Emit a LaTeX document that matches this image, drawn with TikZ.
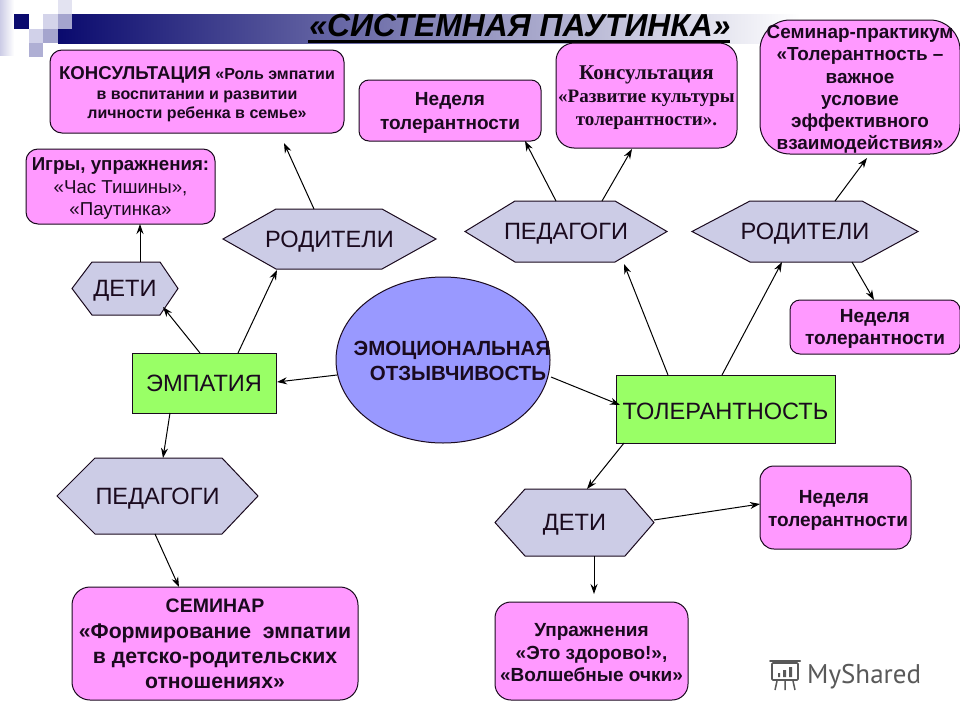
\documentclass[tikz,border=0pt]{standalone}
\usepackage{fontspec}
\setmainfont{Liberation Sans}
\newfontfamily\wmfont{PT Sans}
\newfontfamily\serifont{Liberation Serif}
\usetikzlibrary{arrows.meta}
\definecolor{pinkb}{HTML}{FF99FF}
\definecolor{hexb}{HTML}{CCCCE6}
\definecolor{greenb}{HTML}{99FF66}
\definecolor{ellb}{HTML}{9999FF}
\definecolor{inkc}{HTML}{1A0A1E}
\definecolor{navyb}{HTML}{0A0A6E}
\newcommand{\fs}[2]{\fontsize{#1}{#2}\selectfont}
\tikzset{
  pinkbox/.style={draw=inkc,fill=pinkb,line width=1pt,inner sep=0pt,align=center,text=inkc},
  greenbox/.style={draw=inkc,fill=greenb,line width=1pt,inner sep=0pt,align=center,font=\fs{23.6}{28},text=inkc},
  hexoutline/.style={draw=inkc,fill=hexb,line width=1pt,line join=miter},
  hextext/.style={inner sep=0pt,align=center,font=\fs{23.6}{28},text=inkc},
  arr/.style={draw=black,line width=1pt,-{Stealth[length=10pt,width=7pt]}}
}
\def\bxdy{2.5}
\newcommand{\bx}[8][pinkbox]{\node[#1,rounded corners=#7pt,minimum width={#5-#3},minimum height={#6-#4}] (#2) at ({(#3+#5)/2},{(#4+#6)/2}) {};
 \node[#1,draw=none,fill=none,yshift=-\bxdy pt] (#2text) at (#2.center) {#8};}
\newcommand{\hexa}[8]{\draw[hexoutline] (#2,{(#6+#7)/2}) -- (#3,#6) -- (#4,#6) -- (#5,{(#6+#7)/2}) -- (#4,#7) -- (#3,#7) -- cycle;
 \node[hextext,minimum width={#5-#2},minimum height={#7-#6}] (#1) at ({(#2+#5)/2},{(#6+#7)/2}) {};
 \node[hextext,yshift=-2.5pt] (#1text) at (#1.center) {#8};}
\newcommand{\conn}[6]{\draw[arr] ([shift={(#2,#3)}]#1.center) -- ([shift={(#5,#6)}]#4.center);}
\begin{document}
\begin{tikzpicture}[x=1pt,y=-1pt]
\useasboundingbox (0,0) rectangle (960,720);
\fill[white] (0,0) rectangle (960,720);
% banner
\shade[left color=navyb,right color=white,shading angle=90,draw=none] (58,14) rectangle (800,43);
\shade[left color=hexb,right color=white,draw=none] (0,0) rectangle (14,55);
\fill[navyb] (14,14) rectangle (29,29);
\fill[hexb!55!white] (58,0) rectangle (72,14);
\fill[hexb!85!white] (43,14) rectangle (58,29);
\fill[hexb!80!navyb] (58,14) rectangle (72,29);
\fill[hexb!90!white] (29,29) rectangle (43,43);
\fill[hexb!80!navyb] (43,29) rectangle (58,43);
\fill[hexb!85!navyb] (29,43) rectangle (43,57);
% title
\node[inner sep=0pt,font=\fs{31.8}{36}\bfseries\itshape,text=black,anchor=base] (title) at (520,36) {«СИСТЕМНАЯ ПАУТИНКА»};
\fill[black] (308,40) rectangle (730,42.5);
% boxes
\def\bxdy{3}
\bx[pinkbox,font=\fs{16}{19.5}\bfseries]{kons}{50}{50}{344}{133}{12}{{\fs{18.6}{19.5}КОНСУЛЬТАЦИЯ} «Роль эмпатии\\в воспитании и развитии\\личности ребенка в семье»}
\def\bxdy{2.5}
\bx[pinkbox,font=\fs{18.7}{22.5}]{igry}{26}{149}{215}{224}{12}{{\bfseries Игры, упражнения:}\\«Час Тишины»,\\«Паутинка»}
\bx[pinkbox,font=\fs{19}{24}\bfseries]{nedA}{359}{80}{541}{141}{10}{Неделя\\толерантности}
\bx[pinkbox,font=\serifont\fs{19}{23}\bfseries]{konsB}{556}{43}{737}{148}{18}{{\fs{21}{23}Консультация}\\«Развитие культуры\\толерантности».}
\bx[pinkbox,font=\fs{18.9}{22.3}\bfseries]{semB}{760}{20}{960}{154}{30}{Семинар-практикум\\«Толерантность --\\важное\\условие\\эффективного\\взаимодействия»}
\def\bxdy{2}
\bx[pinkbox,font=\fs{19}{22}\bfseries]{nedB}{790}{300}{960}{354}{10}{Неделя\\толерантности}
\def\bxdy{3}
\bx[pinkbox,font=\fs{19}{23}\bfseries]{nedC}{760}{466}{911}{549}{14}{Неделя\hspace*{3pt}\\\hspace*{5pt}толерантности}
\def\bxdy{2}
\bx[pinkbox,font=\fs{19}{22.5}\bfseries]{upr}{495}{602}{688}{700}{16}{Упражнения\\«Это здорово!»,\\«Волшебные очки»}
\def\bxdy{0.5}
\bx[pinkbox,font=\fs{21.2}{25.3}\bfseries]{semA}{72}{587}{358}{700}{18}{{\fs{19.5}{25.3}СЕМИНАР}\\«Формирование\ \ эмпатии\\в детско-родительских\\отношениях»}
% hexagons
\hexa{rodA}{223}{276}{382}{436}{209}{269}{РОДИТЕЛИ}
\hexa{detA}{72}{92}{160}{178}{262}{315}{ДЕТИ}
\hexa{pedB}{465}{515}{615}{667}{201}{262}{ПЕДАГОГИ}
\hexa{rodB}{692}{750}{862}{918}{201}{262}{РОДИТЕЛИ}
\hexa{pedA}{57}{95}{222}{258}{458}{534}{ПЕДАГОГИ}
\hexa{detB}{495}{525}{625}{654}{489}{556}{ДЕТИ}
% centre
\def\bxdy{0}
\bx[greenbox]{emp}{132}{353}{276}{413}{0}{ЭМПАТИЯ}
\def\bxdy{2}
\bx[greenbox]{tol}{616}{375}{835}{443}{0}{ТОЛЕРАНТНОСТЬ}
\draw[draw=inkc,fill=ellb,line width=1pt] (443,360) ellipse [x radius=107,y radius=83];
\node[minimum width=214pt,minimum height=166pt,inner sep=0pt] (ell) at (443,360) {};
\node[inner sep=0pt,align=center,font=\fs{20.5}{25}\bfseries,text=inkc] (elltext) at (452,361) {ЭМОЦИОНАЛЬНАЯ\\\hspace*{12pt}ОТЗЫВЧИВОСТЬ};
% connectors
\conn{emp}{-4}{-30}{detA}{38}{18.5}
\conn{emp}{34}{-30}{rodA}{-52.5}{31}
\conn{ell}{-106}{15}{emp}{73}{-1}
\conn{emp}{-34}{30}{pedA}{5.5}{-38}
\conn{pedA}{-2.5}{38}{semA}{-36}{-56.5}
\conn{detA}{15}{-26.5}{igry}{19.5}{37.5}
\conn{rodA}{-15.5}{-30}{kons}{87}{51.5}
\conn{pedB}{-10}{-30.5}{nedA}{75}{30.5}
\conn{pedB}{36}{-30.5}{konsB}{-14.5}{53.5}
\conn{rodB}{30}{-30.5}{semB}{7}{71}
\conn{rodB}{47}{30.5}{nedB}{-1}{-27}
\conn{tol}{-57.5}{-34}{pedB}{58}{32.5}
\conn{tol}{-3.5}{-34}{rodB}{-23}{30.5}
\conn{ell}{108}{17}{tol}{-105.5}{-4}
\conn{tol}{-101.5}{34}{detB}{12.5}{-33.5}
\conn{detB}{79.5}{-2.5}{nedC}{-75.5}{-3.5}
\conn{detB}{19.5}{33.5}{upr}{2.5}{-57}
% watermark
\node[inner sep=0pt,anchor=base west,font=\wmfont\fs{27}{30},text=black!65] (wm) at (807,683) {MyShared};
\draw[black!65,line width=1.6pt,rounded corners=1pt] (772,663) rectangle (798,680);
\draw[black!65,line width=2pt,line cap=round] (770,661) -- (800,661);
\draw[black!65,line width=1.5pt] (777,681) -- (775,690) (785,681) -- (785,690) (793,681) -- (795,690);
\fill[black!65] (778,673) rectangle (780,677) (783,670) rectangle (786,677) (789,667) rectangle (792,677);
\end{tikzpicture}
\end{document}
